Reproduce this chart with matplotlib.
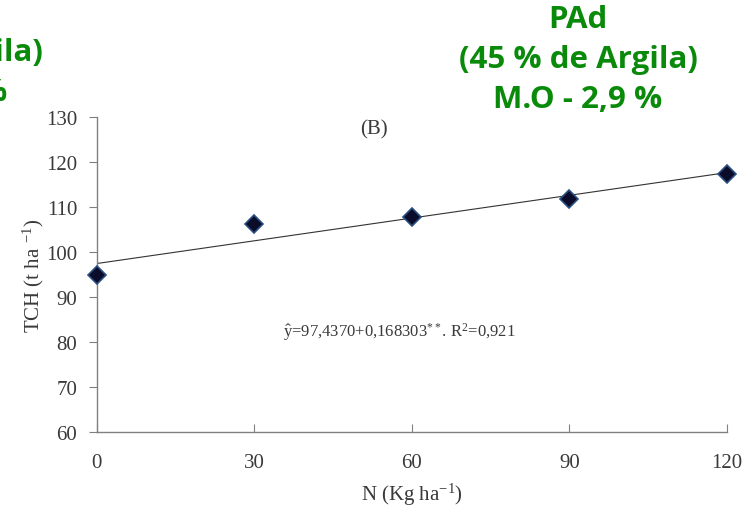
import numpy as np
import matplotlib.pyplot as plt

plt.rcParams['mathtext.fontset'] = 'custom'
plt.rcParams['mathtext.rm'] = 'Liberation Serif'
plt.rcParams['mathtext.it'] = 'Liberation Serif:italic'

# N dose (kg/ha) and cane yield TCH (t/ha)
doses = [0, 30, 60, 90, 120]
tch = [95.0, 106.3, 107.8, 111.8, 117.3]

# fitted regression
a, b = 97.4370, 0.168303
r2 = 0.921

xticks = [0, 30, 60, 90, 120]
yticks = [60, 70, 80, 90, 100, 110, 120, 130]

gray = '#808080'
txt = '#3a3a3a'
green = '#0a8a0a'

fig = plt.figure(figsize=(7.44, 5.06), dpi=100)
ax = fig.add_axes([0.130, 0.144, 0.847, 0.623])

xfit = np.array([doses[0], doses[-1]])
ax.plot(xfit, a + b * xfit, color='#333333', lw=0.8, zorder=2)
ax.plot(doses, tch, ls='none', marker='D', ms=9, mfc='#0b0b2a', mec='#2a4f80', mew=1.2,
		zorder=3, clip_on=False)

ax.set_xlim(0, 120)
ax.set_ylim(60, 130)
ax.set_xticks(xticks)
ax.set_yticks(yticks)
for s in ['top', 'right']:
	ax.spines[s].set_visible(False)
for s in ['left', 'bottom']:
	ax.spines[s].set_color(gray)
	ax.spines[s].set_linewidth(1.0)
ax.tick_params(axis='y', direction='out', length=6, color=gray, labelcolor=txt, labelsize=15, pad=8)
ax.tick_params(axis='x', direction='in', length=6, color=gray, labelcolor=txt, labelsize=15, pad=15)
for lab in ax.get_xticklabels() + ax.get_yticklabels():
	lab.set_fontfamily('Liberation Serif')

ax.set_ylabel('TCH (t ha $^{\\mathrm{-1}}$)', fontsize=15, family='Liberation Serif', color=txt, labelpad=0)
ax.set_xlabel('N (Kg ha$^{\\mathrm{-1}}$)', fontsize=15, family='Liberation Serif', color=txt, labelpad=6)
ax.text(0.44, 0.962, '(B)', transform=ax.transAxes, fontsize=15, family='Liberation Serif',
		color=txt, ha='center', va='center')

ax.text(0.48, 0.32, r'$\hat{\mathrm{y}}$=97,4370+0,168303$^{**}$. R$^2$=0,921',
		transform=ax.transAxes, fontsize=12, family='Liberation Serif', color=txt,
		ha='center', va='center')

fig.text(578 / 744, 1 - 60 / 506, 'PAd\n(45 % de Argila)\nM.O - 2,9 %', color=green,
		 fontsize=22.5, fontweight='bold', family='Open Sans', ha='center', va='center',
		 linespacing=1.42)
fig.text(-77 / 744, 1 - 53 / 506, 'LVd\n(45 % de Argila)\nM.O - 2,9 %', color=green,
		 fontsize=22.5, fontweight='bold', family='Open Sans', ha='center', va='center',
		 linespacing=1.42)

fig.savefig('out.png', dpi=100)
